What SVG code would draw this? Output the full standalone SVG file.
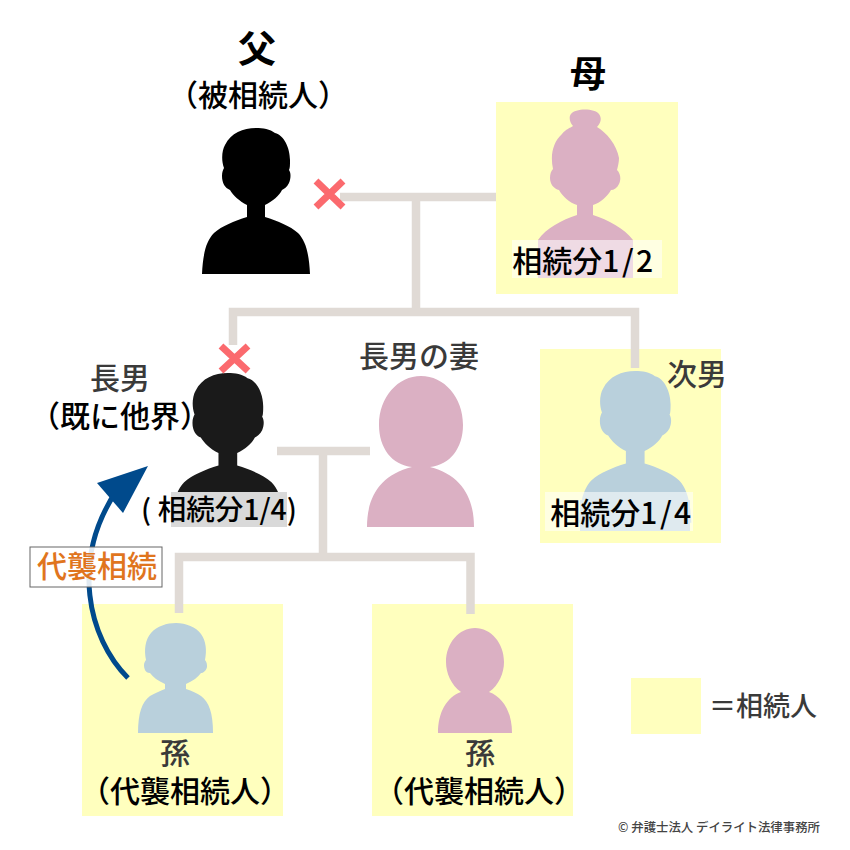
<svg xmlns="http://www.w3.org/2000/svg" width="850" height="850" viewBox="0 0 850 850">
<style>
text{font-family:"Noto Sans CJK JP","Noto Sans",sans-serif;font-weight:500;text-anchor:middle}
.box{fill:#ffffbe}
.ln{fill:none;stroke:#e0dad5;stroke-width:8.5}
.x{stroke:#fb6a6e;stroke-width:7;fill:none}
.k{fill:#000}
.d{fill:#3a3a3a}
.t30{font-size:30px}
.sp{letter-spacing:2.500px}
</style>
<defs>
<path id="man" d="M202 274C203 254 206 241 214 233C222 226 234 221 247 217V205C239 201 233 195 230 190C225 188 222 183 222 176C222 172 223 170 224 168C221 160 222 150 225 145C231 133 243 128 256 128C263 128 270 129 275 133C284 135 290 148 290 160C290 165 290 168 289 170C291 173 291 178 289 183C287 187 284 189 282 190C279 196 273 201 265 205V217C278 221 290 226 298 233C306 241 309 254 310 274Z"/>
</defs>
<rect width="850" height="850" fill="#fff"/>
<g id="father">
<text class="k" x="257" y="62" font-size="38" style="font-weight:700">父</text>
<text class="k t30" x="258" y="106">（被相続人）</text>
<use href="#man"/>
</g>
<g id="mother">
<text class="k" x="588" y="87" font-size="36" style="font-weight:700">母</text>
<rect class="box" x="496" y="102" width="182" height="192"/>
<path fill="#dbb0c3" d="M538 240C546 228 562 220 577 215V205C570 203 562 196 559 190C554 189 550 184 550 178C550 174 551 171 553 169C550 155 553 142 562 134C566 129 570 128 573 126C569 122 569 116 571 114C575 108 595 108 599 114C602 118 601 123 597 127C606 132 617 145 619 158C619 162 618 166 617 170C621 174 621 180 619 184C617 188 614 190 611 190C608 196 600 203 593 205V215C608 220 624 228 633 240V278H538Z"/>
<rect x="512" y="240" width="150" height="38" fill="#fff" fill-opacity=".55"/>
<text class="k t30" x="584" y="272">相続分<tspan class="sp">1/2</tspan></text>
</g>
<g id="eldest">
<text class="d t30" x="120" y="389">長男</text>
<text class="k t30" x="120" y="427">（既に他界）</text>
<use href="#man" fill="#1a1a1a" transform="translate(-38.400 239.900) scale(1.040 1.040)"/>
<rect x="171" y="492" width="116" height="35" fill="#d9d9d9"/>
<text class="k" x="219" y="520" font-size="28.500">( 相続分1/4)</text>
</g>
<g id="wife">
<text class="d t30" x="419" y="367">長男の妻</text>
<path fill="#dbb0c3" d="M367 527C367 497 380 475 412 467C392 465 379 448 379 425C379 397 398 376 421 376C444 376 463 397 463 425C463 448 450 465 430 467C461 475 474 497 474 527Z"/>
</g>
<g id="second">
<rect class="box" x="540" y="349" width="181" height="194"/>
<use href="#man" fill="#b9d0dc" transform="translate(369 237.900) scale(1.040 1.040)"/>
<rect x="580" y="500" width="110" height="31" fill="#b9d0dc"/>
<rect x="545" y="492" width="148" height="39" fill="#fff" fill-opacity=".55"/>
<text class="d t30" x="697" y="385">次男</text>
<text class="k t30" x="622" y="524">相続分<tspan class="sp">1/4</tspan></text>
</g>
<g id="grandson">
<rect class="box" x="82" y="604" width="201" height="212"/>
<path fill="#b9d0dc" d="M138 733C138 713 142 702 150 696C155 693 160 691 165 689V684C158 681 153 677 150 673C145 673 144 668 144 665C144 663 145 661 146 660C144 650 145 640 151 633C157 626 167 623 176 623C186 623 196 627 201 634C206 641 207 650 205 660C207 662 207 665 207 667C206 671 203 673 201 673C198 677 193 681 186 684V689C192 691 197 693 201 696C209 702 213 713 213 733Z"/>
<text class="d t30" x="175" y="764">孫</text>
<text class="k t30" x="185" y="802">（代襲相続人）</text>
</g>
<g id="granddaughter">
<rect class="box" x="372" y="604" width="201" height="212"/>
<path fill="#dbb0c3" d="M438 733C438 712 447 697 461 692C451 685 446 673 446 662C446 643 459 628 475 628C491 628 504 643 504 662C504 673 499 685 489 692C503 697 512 712 512 733Z"/>
<text class="d t30" x="480" y="764">孫</text>
<text class="k t30" x="479" y="802">（代襲相続人）</text>
</g>
<g id="legend">
<rect class="box" x="631" y="678" width="70" height="56"/>
<text class="d" x="763" y="716" font-size="27">＝相続人</text>
</g>
<g id="connectors">
<path class="ln" d="M340 197H496M416 197V312M233 345V312H635V368"/>
<path class="ln" d="M277 451H370M323 451V557M179 613V557H470.500V614"/>
<path class="x" d="M316 181L343 207M343 181L316 207"/>
<path class="x" d="M221 346L248 371M248 346L221 371"/>
<path d="M128 678C88 638 70 560 117 490" fill="none" stroke="#004a8c" stroke-width="5"/>
<polygon points="148,466 97,483 123,513" fill="#004a8c"/>
</g>
<g id="label">
<rect x="30" y="547" width="132" height="40" fill="#fff" fill-opacity=".88" stroke="#666" stroke-width="1"/>
<text x="97" y="577" font-size="30" fill="#e0751e">代襲相続</text>
</g>
<text x="719" y="832" font-size="12.400" fill="#444">© 弁護士法人 デイライト法律事務所</text>
</svg>
